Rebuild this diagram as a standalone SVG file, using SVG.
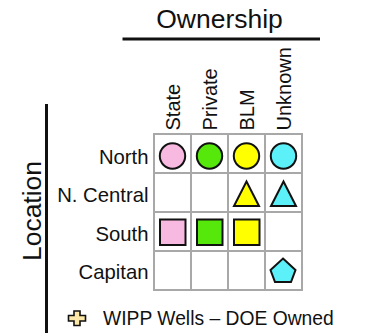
<svg xmlns="http://www.w3.org/2000/svg" width="370" height="333" viewBox="0 0 370 333">
<style>
text{font-family:"Liberation Sans",Arial,sans-serif;fill:#111}
.big{font-size:26.5px}
.col{font-size:20px}
.row{font-size:20.3px;text-anchor:end}
.grid{fill:#fff;stroke:#a8a8a8;stroke-width:2}
.sh{stroke:#111;stroke-width:2}
.pink{fill:#f8b9e1}.green{fill:#55e80a}.yellow{fill:#ffff00}.cyan{fill:#5cf0f8}
</style>
<rect width="370" height="333" fill="#fff"/>
<g id="title-ownership">
<text class="big" x="219.5" y="28" text-anchor="middle">Ownership</text>
<line x1="122.5" y1="39" x2="320" y2="39" stroke="#111" stroke-width="3"/>
</g>
<g id="title-location">
<text class="big" transform="translate(40.5,211) rotate(-90)" text-anchor="middle">Location</text>
<line x1="46.5" y1="104" x2="46.5" y2="333" stroke="#111" stroke-width="3"/>
</g>
<g id="column-labels">
<text class="col" transform="translate(179.5,130.5) rotate(-90)">State</text>
<text class="col" transform="translate(216.5,130.5) rotate(-90)">Private</text>
<text class="col" transform="translate(253.5,130.5) rotate(-90)">BLM</text>
<text class="col" transform="translate(290.5,130.5) rotate(-90)">Unknown</text>
</g>
<g id="row-labels">
<text class="row" x="148.5" y="163.5">North</text>
<text class="row" x="148.5" y="202">N. Central</text>
<text class="row" x="148.5" y="240.5">South</text>
<text class="row" x="148.5" y="279">Capitan</text>
</g>
<g id="grid">
<rect class="grid" x="154" y="134" width="148" height="156"/>
<path d="M191 134V290M228 134V290M265 134V290M154 173H302M154 212H302M154 251H302" stroke="#a8a8a8" stroke-width="2" fill="none"/>
</g>
<g id="north">
<circle class="sh pink" cx="172.5" cy="156" r="12.7"/>
<circle class="sh green" cx="209.5" cy="156" r="12.7"/>
<circle class="sh yellow" cx="246.5" cy="156" r="12.7"/>
<circle class="sh cyan" cx="283.5" cy="156" r="12.7"/>
</g>
<g id="n-central">
<polygon class="sh yellow" points="246.5,181.5 259,206 234,206"/>
<polygon class="sh cyan" points="283.5,181.5 296,206 271,206"/>
</g>
<g id="south">
<rect class="sh pink" x="160" y="219.5" width="25.5" height="25.5"/>
<rect class="sh green" x="197" y="219.5" width="25.5" height="25.5"/>
<rect class="sh yellow" x="234" y="219.5" width="25.5" height="25.5"/>
</g>
<g id="capitan">
<polygon class="sh cyan" points="283,258.5 295.5,270 291,282 275,282 270.5,270"/>
</g>
<g id="legend">
<path d="M74 311h6v4.5h5.5v5.5h-5.5v4.5h-6v-4.5h-5.5v-5.5h5.5z" fill="#fde8a8" stroke="#111" stroke-width="1.6"/>
<text x="103" y="325" font-size="19.3">WIPP Wells – DOE Owned</text>
</g>
</svg>
